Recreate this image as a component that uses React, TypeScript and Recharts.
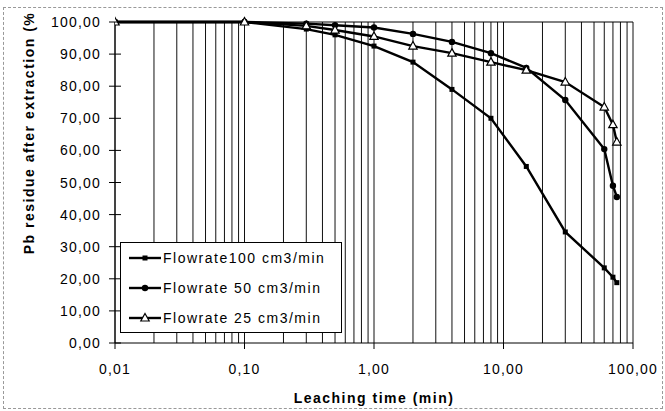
import { CartesianGrid, Legend, Line, LineChart, ReferenceLine, XAxis, YAxis } from 'recharts'

// leaching time (min) and Pb residue (%) per flowrate
const times = [0.01, 0.1, 0.3, 0.5, 1, 2, 4, 8, 15, 30, 60, 70, 75]
const flow100 = [100, 100, 97.8, 96, 92.5, 87.5, 79, 70, 55, 34.6, 23.4, 20.5, 18.8]
const flow50 = [100, 100, 99.5, 99, 98.3, 96.3, 93.8, 90.3, 85.7, 75.7, 60.4, 49, 45.5]
const flow25 = [100, 100, 98.8, 97.5, 95.5, 92.5, 90.3, 87.5, 85, 81.3, 73.5, 68, 62.6]

const seriesNames = ['Flowrate100 cm3/min', 'Flowrate 50 cm3/min', 'Flowrate 25 cm3/min']
const xLabelTicks = [0.01, 0.1, 1, 10, 100]
const yTicks = [0, 10, 20, 30, 40, 50, 60, 70, 80, 90, 100]

// log gridlines: 1..9 in every decade
const gridTicks: number[] = []
for (const d of [0.01, 0.1, 1, 10]) {
  for (let m = 1; m < 10; m++) gridTicks.push(Number((m * d).toPrecision(2)))
}
gridTicks.push(100)

const data = times.map((t, i) => ({ t, f100: flow100[i], f50: flow50[i], f25: flow25[i] }))

const font = '"Liberation Sans", Arial, sans-serif'
const fmt = (v: number) => v.toFixed(2).replace('.', ',')

const Square = (p: any) => (
  <rect key={`s${p.cx}-${p.cy}`} x={p.cx - 2.5} y={p.cy - 2.5} width={5} height={5} fill="#000" />
)
const Dot = (p: any) => <circle key={`c${p.cx}-${p.cy}`} cx={p.cx} cy={p.cy} r={3.2} fill="#000" />
const Tri = (p: any) => (
  <path
    key={`t${p.cx}-${p.cy}`}
    d={`M${p.cx},${p.cy - 4.5} L${p.cx + 4.2},${p.cy + 3} L${p.cx - 4.2},${p.cy + 3} Z`}
    fill="#fff"
    stroke="#000"
    strokeWidth={1.2}
  />
)

function XTick({ x, y, payload }: any) {
  const v = payload.value
  if (!xLabelTicks.some((t) => Math.abs(t - v) < 1e-9)) return null
  return (
    <g>
      <line x1={x} x2={x} y1={y} y2={y + 6} stroke="#000" />
      <text x={x} y={y + 31} textAnchor="middle" fontSize={14} letterSpacing={1.2} fill="#000" fontFamily={font}>
        {fmt(v)}
      </text>
    </g>
  )
}

function YTick({ x, y, payload }: any) {
  return (
    <g>
      <line x1={x - 6} x2={x + 6} y1={y} y2={y} stroke="#000" />
      <text x={x - 14} y={y + 5} textAnchor="end" fontSize={14} letterSpacing={1.2} fill="#000" fontFamily={font}>
        {fmt(payload.value)}
      </text>
    </g>
  )
}

function LegendBox() {
  const marks = [Square, Dot, Tri]
  return (
    <div style={{ width: 222, height: 91, border: '1px solid #000', background: '#fff', boxSizing: 'border-box' }}>
      {seriesNames.map((name, i) => {
        const M = marks[i]
        return (
          <div key={name} style={{ display: 'flex', alignItems: 'center', height: 30 }}>
            <svg width={42} height={12} style={{ display: 'block' }}>
              <line x1={8} x2={40} y1={6} y2={6} stroke="#000" strokeWidth={2.4} />
              <M cx={24} cy={6} />
            </svg>
            <span style={{ fontFamily: font, fontSize: 14, letterSpacing: 1.5, color: '#000' }}>{name}</span>
          </div>
        )
      })}
    </div>
  )
}

export default function App() {
  return (
    <div style={{ position: 'absolute', left: 0, top: 0, width: 665, height: 411, background: '#fff', fontFamily: font }}>
      <div style={{ position: 'absolute', left: 3, top: 7, width: 658, height: 400, border: '1px dashed #999' }} />
      <LineChart width={665} height={411} data={data} margin={{ top: 22, right: 32, bottom: 0, left: 0 }}>
        <CartesianGrid horizontal={false} stroke="#111" strokeOpacity={1} />
        <XAxis
          dataKey="t"
          type="number"
          scale="log"
          domain={[0.01, 100]}
          allowDataOverflow
          ticks={gridTicks}
          interval={0}
          tick={<XTick />}
          tickSize={0}
          tickMargin={0}
          tickLine={false}
          height={68}
          axisLine={{ stroke: '#000' }}
          label={{
            content: () => (
              <text x={374} y={403} textAnchor="middle" fontSize={14} fontWeight="bold" letterSpacing={1.5} fill="#000" fontFamily={font}>
                Leaching time (min)
              </text>
            ),
          }}
        />
        <YAxis
          type="number"
          domain={[0, 100]}
          ticks={yTicks}
          interval={0}
          tick={<YTick />}
          tickSize={0}
          tickMargin={0}
          tickLine={false}
          width={115}
          axisLine={{ stroke: '#000' }}
          label={{
            content: () => (
              <text
                x={29}
                y={133}
                transform="rotate(-90 29 133)"
                textAnchor="middle"
                dominantBaseline="central"
                fontSize={14}
                fontWeight="bold"
                letterSpacing={1.5}
                fill="#000"
                fontFamily={font}
              >
                Pb residue after extraction (%
              </text>
            ),
          }}
        />
        <ReferenceLine y={100} stroke="#000" />
        <Legend
          layout="vertical"
          align="center"
          verticalAlign="middle"
          content={<LegendBox />}
          wrapperStyle={{ position: 'absolute', left: 120, top: 242, width: 222, height: 91 }}
        />
        <Line dataKey="f100" stroke="#000" strokeWidth={2.4} dot={Square} isAnimationActive={false} />
        <Line dataKey="f50" stroke="#000" strokeWidth={2.4} dot={Dot} isAnimationActive={false} />
        <Line dataKey="f25" stroke="#000" strokeWidth={2.4} dot={Tri} isAnimationActive={false} />
      </LineChart>
    </div>
  )
}
